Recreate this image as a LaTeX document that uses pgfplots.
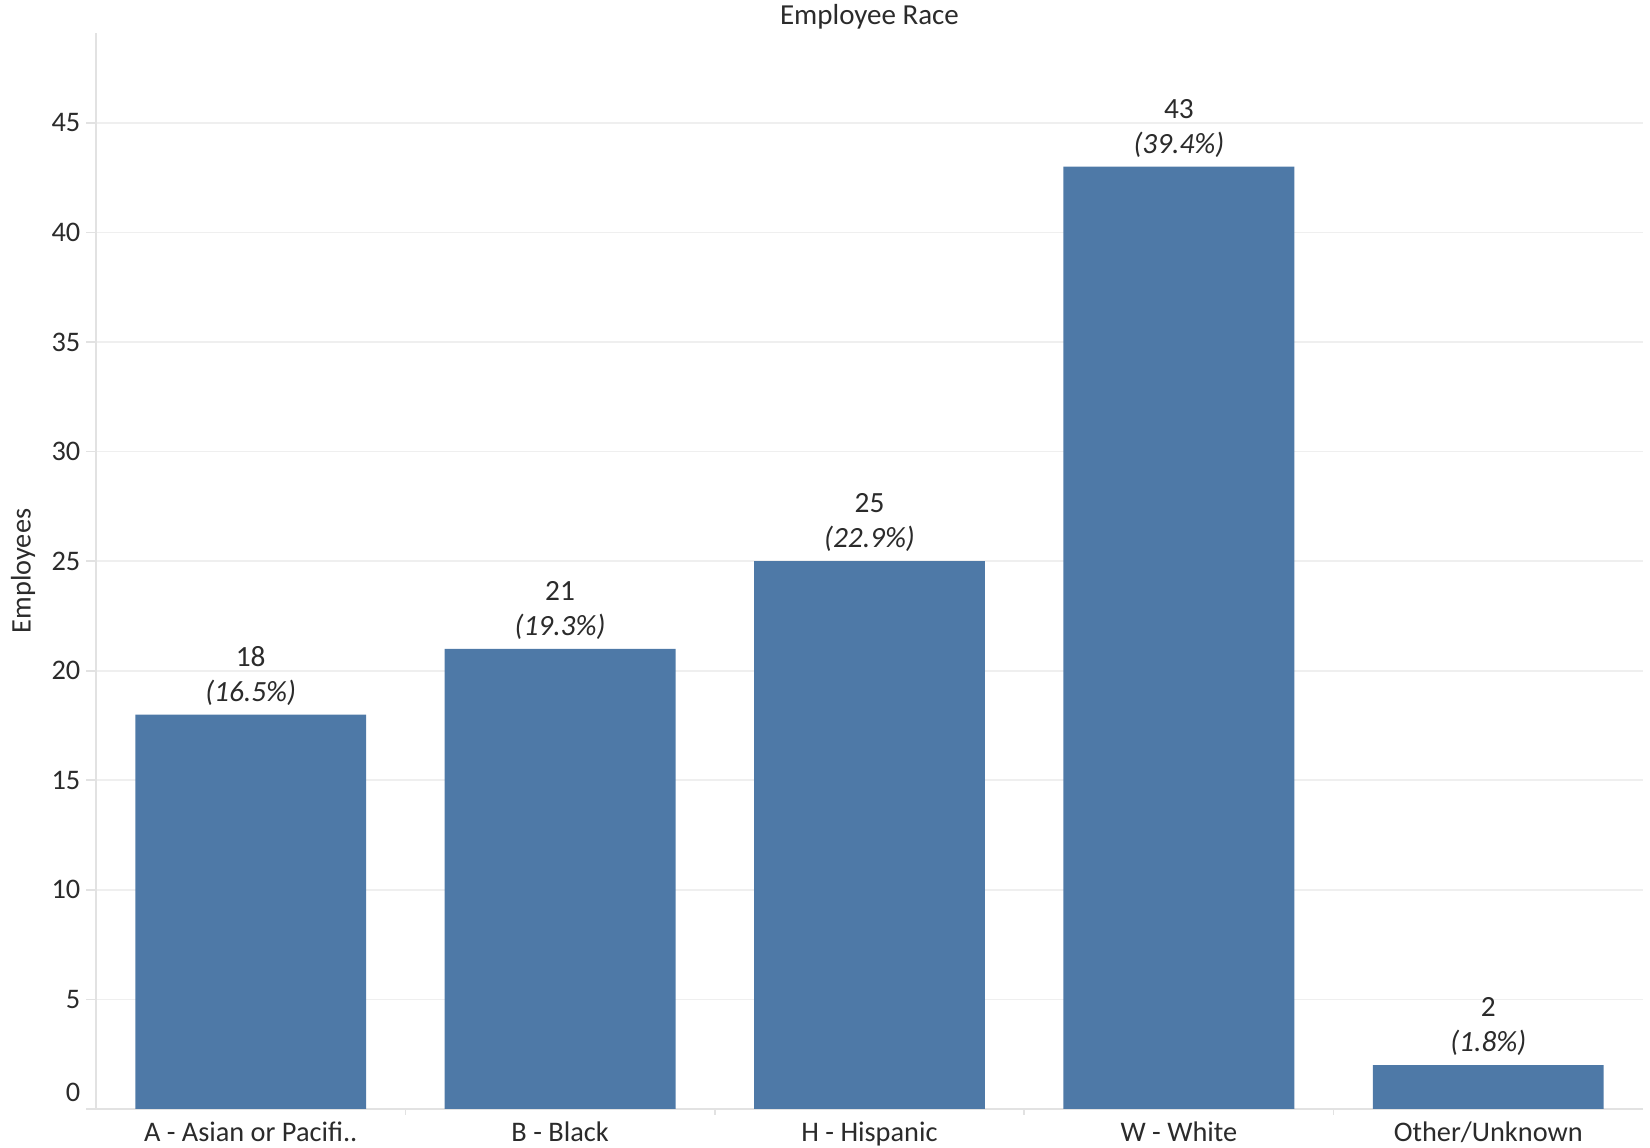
\documentclass[border=0pt]{standalone}
\usepackage{fontspec}
\setmainfont{Carlito}
\usepackage{pgfplots}
\usepackage{pgfplotstable}
\pgfplotsset{compat=1.18}
\definecolor{barblue}{HTML}{4E79A7}
\definecolor{gridgray}{HTML}{EFEFEF}
\definecolor{axisgray}{HTML}{E2E2E2}
\definecolor{txt}{HTML}{2B2B2B}

% employee counts and their share of the total
\pgfplotstableread{
x y pct
0 18 16.5
1 21 19.3
2 25 22.9
3 43 39.4
4 2 1.8
}\racedata

\begin{document}
\begin{tikzpicture}
\useasboundingbox (0,0) rectangle (495pt,344.4pt);
\begin{axis}[
  at={(28.8pt,11.7pt)}, anchor=south west,
  scale only axis, width=464.1pt, height=322.8pt,
  xmin=-0.5, xmax=4.5, ymin=0, ymax=49.1,
  /pgf/number format/assume math mode=true,
  axis x line*=bottom, axis y line*=left,
  axis line style={draw=axisgray, line width=0.5pt, -},
  tick align=outside,
  major tick length=3pt,
  tick style={draw=axisgray, line width=0.5pt},
  xtick={0,1,2,3,4},
  xticklabels={A - Asian or Pacifi..,B - Black,H - Hispanic,W - White,Other/Unknown},
  xtick style={draw=none},
  extra x ticks={0.5,1.5,2.5,3.5},
  extra x tick labels={},
  extra x tick style={xtick style={draw=axisgray}, major tick length=1.8pt},
  ytick={0,5,...,45},
  yticklabels={\raisebox{10pt}{0},5,10,15,20,25,30,35,40,45},
  ymajorgrids,
  major grid style={draw=gridgray, line width=0.5pt},
  xticklabel style={anchor=base, inner sep=0pt, yshift=-6.9pt},
  yticklabel style={anchor=east, inner sep=0pt, xshift=-1.5pt},
  tick label style={font=\fontsize{8.5}{10}\selectfont, text=txt},
  title={Employee Race},
  every axis title shift=0pt,
  title style={at={(axis description cs:0.5,1)}, anchor=base, yshift=2.4pt,
    font=\fontsize{8.7}{10}\selectfont, text=txt},
  ylabel={Employees},
  every axis y label/.style={at={(axis description cs:-0.0472,0.5)}, rotate=90,
    anchor=center, font=\fontsize{8.5}{10}\selectfont, text=txt},
  ybar, bar width=0.746, bar shift=0pt,
  point meta=explicit,
  visualization depends on={rawy \as \nemp},
  nodes near coords={\pgfmathprintnumber[fixed,precision=0]{\nemp}\\\textit{(\pgfmathprintnumber[fixed,precision=1,fixed zerofill]{\pgfplotspointmeta}\%)}},
  nodes near coords style={align=center, anchor=south, inner sep=0pt, yshift=2.6pt,
    font=\fontsize{8.8}{10.5}\selectfont, text=txt},
]
\addplot[fill=barblue, draw=none] table[x=x, y=y, meta=pct] {\racedata};
\end{axis}
\end{tikzpicture}
\end{document}
